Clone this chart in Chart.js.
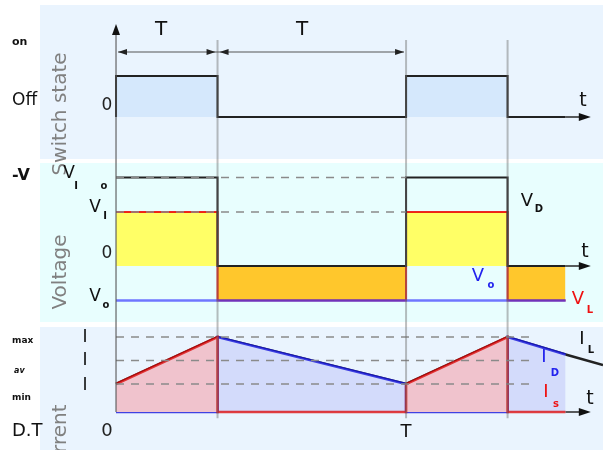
<!DOCTYPE html>
<html>
<head>
<meta charset="utf-8">
<script src="https://cdn.jsdelivr.net/npm/chart.js@4.4.1/dist/chart.umd.min.js"></script>
<style>
html, body { margin: 0; padding: 0; background: #fff; }
#wrap { position: relative; width: 603px; height: 450px; }
</style>
</head>
<body>
<div id="wrap"><canvas id="c" width="603" height="450"></canvas></div>
<script>
/* ---- data (time in periods, D = duty cycle) ---- */
var D = 0.35;
var T_END = 1.55;      // waveforms stop here
var T_MAX = 1.679;     // right edge of the picture

// switch state
var swT = [0, 0, D, D, 1, 1, 1 + D, 1 + D, T_END];
var swV = [0, 1, 1, 0, 0, 1, 1, 0, 0];

// voltages (V_I = 1)
var V_I = 1, V_O = -0.64, V_DTOP = 1.64;
var vdT = [0, D, D, 1, 1, 1 + D, 1 + D, T_END];
var vdV = [V_DTOP, V_DTOP, 0, 0, V_DTOP, V_DTOP, 0, 0];
var vlT = [0, D, D, 1, 1, 1 + D, 1 + D, T_END];
var vlV = [V_I, V_I, V_O, V_O, V_I, V_I, V_O, V_O];
var voT = [0, T_END];
var voV = [V_O, V_O];

// currents
var I_MIN = 1.12, I_AV = 2.06, I_MAX = 3.0;
var ilT = [0, D, 1, 1 + D, T_END, T_MAX];
var ilV = [I_MIN, I_MAX, I_MIN, I_MAX, 2.3, 1.88];
var isT = [0, D, D, 1, 1, 1 + D, 1 + D, T_END];
var isV = [I_MIN, I_MAX, 0, 0, I_MIN, I_MAX, 0, 0];
var idT = [0, D, D, 1, 1, 1 + D, 1 + D, T_END];
var idV = [0, 0, I_MAX, I_MIN, 0, 0, I_MAX, 2.3];

function pts(t, v) { return t.map(function(x, i) { return { x: x, y: v[i] }; }); }

var FONT = '"DejaVu Sans", sans-serif';

function txt(ctx, s, x, y, size, color, opt) {
    opt = opt || {};
    ctx.save();
    ctx.font = (opt.weight || '') + ' ' + size + 'px ' + FONT;
    ctx.fillStyle = color;
    ctx.textAlign = opt.align || 'center';
    ctx.textBaseline = 'middle';
    if (opt.rot) { ctx.translate(x, y); ctx.rotate(opt.rot); ctx.fillText(s, 0, 0); }
    else ctx.fillText(s, x, y);
    ctx.restore();
}

function arrowHead(ctx, x, y, dir, len, w) {
    ctx.beginPath();
    if (dir === 'r') { ctx.moveTo(x, y); ctx.lineTo(x - len, y - w); ctx.lineTo(x - len, y + w); }
    if (dir === 'l') { ctx.moveTo(x, y); ctx.lineTo(x + len, y - w); ctx.lineTo(x + len, y + w); }
    if (dir === 'u') { ctx.moveTo(x, y); ctx.lineTo(x - w, y + len); ctx.lineTo(x + w, y + len); }
    ctx.closePath();
    ctx.fill();
}

/* ---- panel backgrounds ---- */
var panels = {
    id: 'panels',
    beforeDraw: function(chart) {
        var ctx = chart.ctx;
        ctx.save();
        ctx.fillStyle = '#eaf4fe'; ctx.fillRect(40, 5, 563, 154);
        ctx.fillStyle = '#e8fefe'; ctx.fillRect(40, 163, 563, 159);
        ctx.fillStyle = '#eaf4fe'; ctx.fillRect(40, 327, 563, 123);
        ctx.restore();
    }
};

/* ---- axes, guides, labels ---- */
var decor = {
    id: 'decor',
    afterDatasetsDraw: function(chart) {
        var ctx = chart.ctx, sx = chart.scales.x;
        var ys = chart.scales.ys, yv = chart.scales.yv, yi = chart.scales.yi;
        var X = function(t) { return sx.getPixelForValue(t); };
        ctx.save();

        // dashed guide lines
        ctx.strokeStyle = '#8a8a8a'; ctx.lineWidth = 1.6; ctx.setLineDash([8, 7]);
        [[yv, V_DTOP, 1], [yv, V_I, 1], [yi, I_MAX, 1.43], [yi, I_AV, 1.43], [yi, I_MIN, 1.43]].forEach(function(g) {
            var y = g[0].getPixelForValue(g[1]);
            ctx.beginPath(); ctx.moveTo(X(0), y); ctx.lineTo(X(g[2]), y); ctx.stroke();
        });
        ctx.setLineDash([]);

        // vertical timing lines
        ctx.strokeStyle = 'rgba(110,110,110,0.45)'; ctx.lineWidth = 2;
        [D, 1, 1 + D].forEach(function(t) {
            ctx.beginPath(); ctx.moveTo(X(t), 40); ctx.lineTo(X(t), yi.getPixelForValue(-0.25)); ctx.stroke();
        });
        ctx.strokeStyle = 'rgba(90,90,90,0.7)'; ctx.lineWidth = 1.6;
        ctx.beginPath(); ctx.moveTo(X(0), 34); ctx.lineTo(X(0), yi.getPixelForValue(0)); ctx.stroke();
        ctx.fillStyle = '#111';
        arrowHead(ctx, X(0), 24, 'u', 11, 4);

        // time axes with arrows
        ctx.strokeStyle = '#333'; ctx.lineWidth = 1.6;
        [ys, yv, yi].forEach(function(s) {
            var y = s.getPixelForValue(0);
            ctx.beginPath(); ctx.moveTo(X(T_END), y); ctx.lineTo(X(1.6), y); ctx.stroke();
            arrowHead(ctx, X(1.637), y, 'r', 12, 4);
        });

        // period dimension arrows
        ctx.strokeStyle = '#555'; ctx.lineWidth = 1.2;
        var ya = 52;
        ctx.beginPath(); ctx.moveTo(X(0) + 2, ya); ctx.lineTo(X(1) - 2, ya); ctx.stroke();
        ctx.fillStyle = '#222';
        arrowHead(ctx, X(0) + 2, ya, 'l', 9, 3);
        arrowHead(ctx, X(D) - 2, ya, 'r', 9, 3);
        arrowHead(ctx, X(D) + 2, ya, 'l', 9, 3);
        arrowHead(ctx, X(1) - 2, ya, 'r', 9, 3);

        // text
        var k = '#111', g = '#808080', red = '#ee1111', blue = '#2222ee';
        txt(ctx, 'T', 161, 30, 20, k);
        txt(ctx, 'T', 302, 30, 20, k);
        txt(ctx, 'on', 12, 42, 11, k, { align: 'left', weight: 'bold' });
        txt(ctx, 'Off', 12, 101, 17, k, { align: 'left' });
        txt(ctx, '0', 107, 106, 17, '#222');
        txt(ctx, 't', 583, 101, 19, k);
        txt(ctx, 'Switch state', 61, 114, 20, g, { rot: -Math.PI / 2 });

        txt(ctx, '-V', 12, 176, 16, k, { align: 'left', weight: 'bold' });
        txt(ctx, 'V', 69, 174, 17, k);
        txt(ctx, 'I', 76, 186, 10, k, { weight: 'bold' });
        txt(ctx, 'o', 104, 186, 10, k, { weight: 'bold' });
        txt(ctx, 'V', 95, 208, 17, k);
        txt(ctx, 'I', 105, 216, 10, k, { weight: 'bold' });
        txt(ctx, '0', 107, 254, 17, '#222');
        txt(ctx, 't', 585, 252, 19, k);
        txt(ctx, 'V', 95, 297, 17, k);
        txt(ctx, 'o', 106, 305, 10, k, { weight: 'bold' });
        txt(ctx, 'Voltage', 61, 272, 20, g, { rot: -Math.PI / 2 });
        txt(ctx, 'V', 527, 201, 18, k);
        txt(ctx, 'D', 539, 209, 10, k, { weight: 'bold' });
        txt(ctx, 'V', 478, 276, 18, blue);
        txt(ctx, 'o', 491, 285, 10, blue, { weight: 'bold' });
        txt(ctx, 'V', 578, 299, 18, red);
        txt(ctx, 'L', 590, 310, 10, red, { weight: 'bold' });

        txt(ctx, 'I', 85, 338, 17, k);
        txt(ctx, 'I', 85, 361, 17, k);
        txt(ctx, 'I', 85, 386, 17, k);
        txt(ctx, 'max', 12, 341, 9, k, { align: 'left', weight: 'bold' });
        txt(ctx, 'av', 14, 371, 8, k, { align: 'left', weight: 'bold italic' });
        txt(ctx, 'min', 12, 398, 9, k, { align: 'left', weight: 'bold' });
        txt(ctx, 'Current', 61, 442, 20, g, { rot: -Math.PI / 2 });
        txt(ctx, 'D.T', 12, 431, 18, k, { align: 'left' });
        txt(ctx, '0', 107, 431, 18, '#222');
        txt(ctx, 'T', 406, 432, 18, k);
        txt(ctx, 'I', 582, 339, 18, k);
        txt(ctx, 'L', 591, 350, 10, k, { weight: 'bold' });
        txt(ctx, 'I', 544, 357, 18, blue);
        txt(ctx, 'D', 555, 373, 10, blue, { weight: 'bold' });
        txt(ctx, 'I', 546, 392, 18, red);
        txt(ctx, 's', 556, 404, 10, red, { weight: 'bold' });
        txt(ctx, 't', 590, 399, 19, k);

        ctx.restore();
    }
};

function line(data, axis, color, width, order, fill, bg) {
    return {
        data: data, yAxisID: axis, borderColor: color, borderWidth: width,
        pointRadius: 0, tension: 0, order: order,
        fill: fill || false, backgroundColor: bg || 'transparent'
    };
}

new Chart(document.getElementById('c'), {
    type: 'line',
    data: {
        datasets: [
            line(pts(swT, swV), 'ys', '#222', 2, 1, 'origin', '#d5e8fc'),
            line(pts(vlT, vlV), 'yv', 'rgba(235,0,0,0.85)', 2, 4,
                 { target: 'origin', above: '#ffff66', below: '#ffc72c' }),
            line(pts(vdT, vdV), 'yv', '#222', 2, 3),
            line(pts(voT, voV), 'yv', 'rgba(60,60,255,0.7)', 2.5, 2),
            line(pts(ilT, ilV), 'yi', '#222', 2.5, 7),
            line(pts(idT, idV), 'yi', 'rgba(20,20,220,0.8)', 2.5, 6, 'origin', '#d3dbfb'),
            line(pts(isT, isV), 'yi', 'rgba(220,0,0,0.75)', 2.5, 5, 'origin', '#f0c3cd')
        ]
    },
    options: {
        responsive: false, animation: false,
        layout: { padding: 0 },
        plugins: { legend: { display: false }, tooltip: { enabled: false } },
        scales: {
            x:  { type: 'linear', display: false, min: -0.4, max: T_MAX },
            ys: { type: 'linear', display: false, min: -450 / 41 + 117 / 41, max: 117 / 41 },
            yv: { type: 'linear', display: false, min: -(450 - 266) / 54, max: 266 / 54 },
            yi: { type: 'linear', display: false, min: -(450 - 412) / 25, max: 412 / 25 }
        }
    },
    plugins: [panels, decor]
});
</script>
</body>
</html>
